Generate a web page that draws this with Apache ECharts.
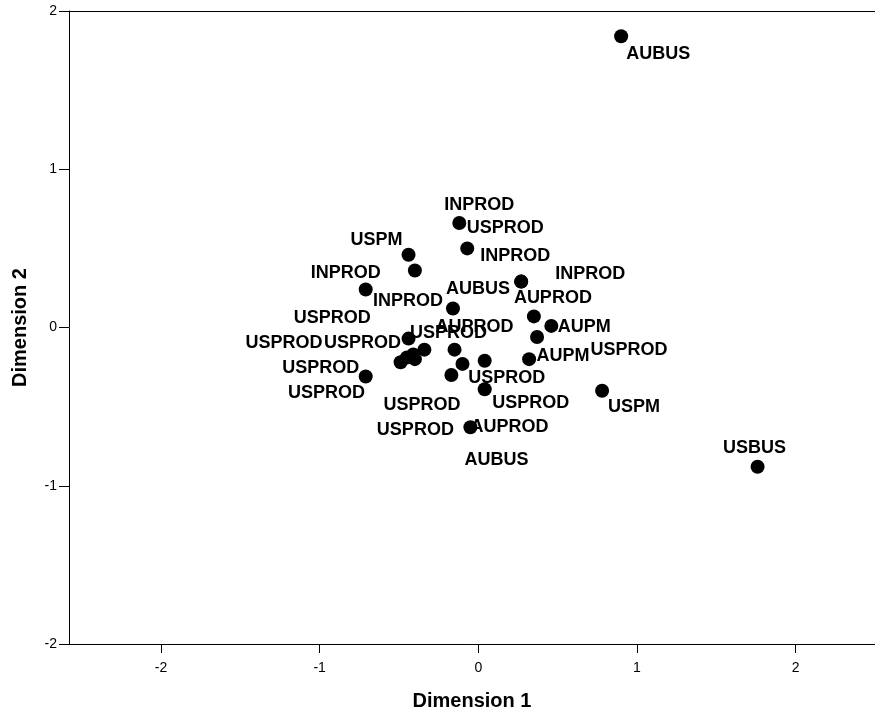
<!DOCTYPE html>
<html>
<head>
<meta charset="utf-8">
<script src="https://cdn.jsdelivr.net/npm/echarts@6/dist/echarts.min.js"></script>
<style>
  html, body { margin: 0; padding: 0; background: #fff; }
  #main { width: 875px; height: 711px; }
</style>
</head>
<body>
<div id="main"></div>
<script>
// point names and coordinates (Dimension 1, Dimension 2)
var names = [
  "AUBUS", "USBUS", "INPROD", "USPROD", "USPM", "INPROD", "INPROD", "AUBUS",
  "INPROD", "INPROD", "AUPROD", "AUPM", "USPROD", "AUPM", "USPM", "USPROD",
  "USPROD", "USPROD", "USPROD", "USPROD", "USPROD", "AUPROD", "AUBUS", "USPROD",
  "USPROD", "USPROD", "USPROD", "AUPROD"
];
var dim1 = [
  0.90, 1.76, -0.12, -0.07, -0.44, -0.40, -0.71, -0.16,
  0.27, 0.27, 0.35, 0.46, 0.37, 0.32, 0.78, -0.44,
  -0.34, -0.41, -0.40, -0.45, -0.49, -0.15, -0.10, -0.17,
  -0.71, 0.04, 0.04, -0.05
];
var dim2 = [
  1.84, -0.88, 0.66, 0.50, 0.46, 0.36, 0.24, 0.12,
  0.29, 0.29, 0.07, 0.01, -0.06, -0.20, -0.40, -0.07,
  -0.14, -0.17, -0.20, -0.19, -0.22, -0.14, -0.23, -0.30,
  -0.31, -0.21, -0.39, -0.63
];
var xTicks = [-2, -1, 0, 1, 2];

// where each name sits relative to its dot (px)
var labelOffsets = [
  [37, 18], [-3, -19], [20, -18], [38, -20], [-32, -15], [-7, 31], [-20, -16], [25, -19],
  [-6, -26], [69, -8], [19, -18], [33, 1], [92, 13], [34, -3], [32, 16], [-46, 4],
  [24, -17], [-81, -36], [7, 46], [-123, -15], [-74, 31], [20, -23], [34, 96], [-36, 55],
  [-45, -9], [22, 17], [46, 14], [39, 0]
];

var points = names.map(function (n, i) {
  return {
    name: n,
    value: [dim1[i], dim2[i]],
    label: { offset: labelOffsets[i] }
  };
});

var chart = echarts.init(document.getElementById("main"));
var font = "'Liberation Sans', Arial, sans-serif";

var option = {
  animation: false,
  grid: { left: 69, right: 0, top: 11, bottom: 67, outerBoundsMode: "none", containLabel: false },
  xAxis: [
    {
      type: "value",
      min: -2.58,
      max: 2.5,
      name: "Dimension 1",
      nameLocation: "middle",
      nameGap: 47,
      nameTextStyle: { fontFamily: font, fontWeight: "bold", fontSize: 20, color: "#000" },
      axisLine: { show: true, onZero: false, lineStyle: { color: "#000", width: 1 } },
      axisTick: { show: true, length: 9, customValues: xTicks, lineStyle: { color: "#000" } },
      axisLabel: { customValues: xTicks, margin: 17, fontFamily: font, fontSize: 14, color: "#000" },
      splitLine: { show: false }
    },
    {
      type: "value",
      position: "top",
      min: -2.58,
      max: 2.5,
      axisLine: { show: true, onZero: false, lineStyle: { color: "#000", width: 1 } },
      axisTick: { show: false },
      axisLabel: { show: false },
      splitLine: { show: false }
    }
  ],
  yAxis: {
    type: "value",
    min: -2,
    max: 2,
    interval: 1,
    name: "Dimension 2",
    nameLocation: "middle",
    nameGap: 39,
    nameTextStyle: { fontFamily: font, fontWeight: "bold", fontSize: 20, color: "#000" },
    axisLine: { show: true, onZero: false, lineStyle: { color: "#000", width: 1 } },
    axisTick: { show: true, length: 10, lineStyle: { color: "#000" } },
    axisLabel: { margin: 12, fontFamily: font, fontSize: 14, color: "#000" },
    splitLine: { show: false }
  },
  series: [
    {
      type: "scatter",
      xAxisIndex: 0,
      symbol: "circle",
      symbolSize: 14,
      itemStyle: { color: "#000", opacity: 1 },
      label: {
        show: true,
        position: "inside",
        formatter: "{b}",
        fontFamily: font,
        fontWeight: "bold",
        fontSize: 18,
        color: "#000"
      },
      data: points
    }
  ]
};

chart.setOption(option);
</script>
</body>
</html>
